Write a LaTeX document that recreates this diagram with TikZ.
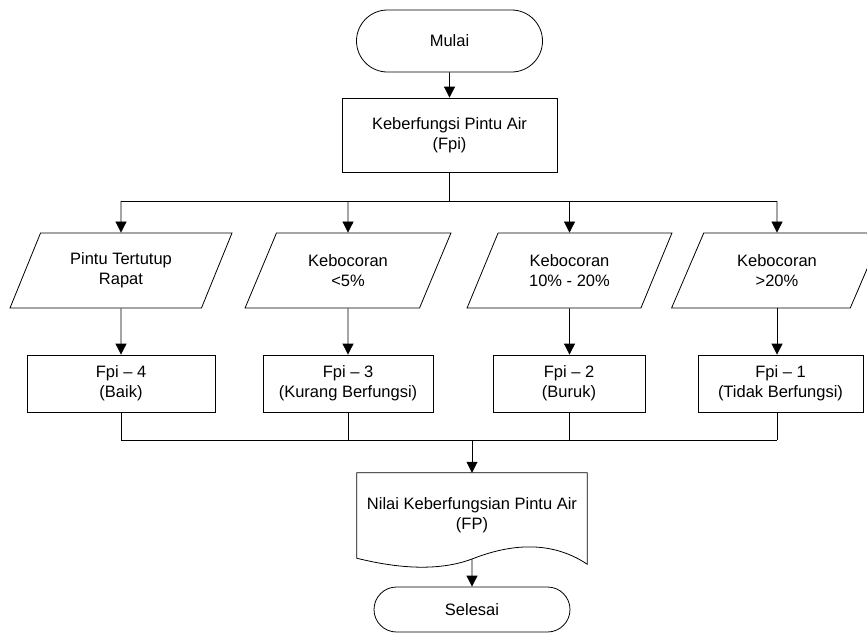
\documentclass[tikz,border=0pt]{standalone}
\usepackage{fontspec}
\setmainfont{Liberation Sans}
\usetikzlibrary{shapes.geometric,shapes.misc,arrows.meta}

\tikzset{
  base/.style={draw=black, line width=0.8pt, align=center, inner sep=2pt,
    font=\fontsize{16.5}{20}\selectfont},
  terminal/.style={base, rounded rectangle, minimum width=190pt, minimum height=62pt},
  process/.style={base, rectangle, minimum height=57pt},
  io/.style={base, trapezium, trapezium left angle=63, trapezium right angle=117,
    trapezium stretches=true, minimum height=75pt},
  docbody/.style={align=center, inner sep=0pt, minimum width=230pt, minimum height=85pt,
    font=\fontsize{16.5}{20}\selectfont},
  link/.style={line width=0.8pt},
  flow/.style={link, -{Triangle[length=11pt,width=11pt]}}
}

\begin{document}
\begin{tikzpicture}[x=1pt, y=-1pt]
  \useasboundingbox (0,0) rectangle (867,643);

  % start and main assessment
  \node[terminal] (start) at (449.5,41) {Mulai};
  \node[process, minimum width=215pt, minimum height=74pt] (fpi) at (449.5,135)
    {Keberfungsi Pintu Air\\(Fpi)};

  % leakage conditions
  \node[io, minimum width=222pt] (c1) at (121,270.5) {Pintu Tertutup\\Rapat};
  \node[io, minimum width=206pt] (c2) at (348,270.5) {Kebocoran\\<5\%};
  \node[io, minimum width=205pt] (c3) at (569.5,270.5) {Kebocoran\\10\% - 20\%};
  \node[io, minimum width=211pt] (c4) at (777,270.5) {Kebocoran\\>20\%};

  % scores
  \node[process, minimum width=188pt] (s1) at (121,383.5) {Fpi – 4\\(Baik)};
  \node[process, minimum width=170pt] (s2) at (348,383.5) {Fpi – 3\\(Kurang Berfungsi)};
  \node[process, minimum width=152pt] (s3) at (569,383.5) {Fpi – 2\\(Buruk)};
  \node[process, minimum width=165pt] (s4) at (780.5,383.5) {Fpi – 1\\(Tidak Berfungsi)};

  % result document
  \node[docbody] (doc) at (472,515.5) {Nilai Keberfungsian Pintu Air\\(FP)};
  \draw[link] (doc.north west) -- (doc.north east) -- ([yshift=-6pt]doc.south east)
    .. controls (548,538) and (505,546) .. (472,559)
    .. controls (440,571) and (400,569) .. (doc.south west) -- cycle;
  \coordinate (docout) at (472,559);

  \node[terminal, minimum width=200pt, minimum height=45pt] (end) at (472,609.5) {Selesai};

  % bus coordinates
  \coordinate (split) at (449.5,201);
  \coordinate (join) at (472,440);

  % connectors
  \draw[flow] (start) -- (fpi);
  \draw[link] (fpi.south) -- (split);
  \draw[link] (split -| c1) -- (split -| c4);
  \foreach \c in {c1,c2,c3,c4} \draw[flow] (split -| \c) -- (\c);
  \foreach \c/\s in {c1/s1,c2/s2,c3/s3} \draw[flow] (\c) -- (\c |- \s.north);
  \draw[flow] (c4.south) -- (c4.south |- s4.north);
  \foreach \s in {s1,s2,s3} \draw[link] (\s.south) -- (\s.south |- join);
  \draw[link] (c4.south |- s4.south) -- (c4.south |- join);
  \draw[link] (join -| s1) -- (join -| c4.south);
  \draw[flow] (join) -- (doc.north);
  \draw[flow] (docout) -- (end);
\end{tikzpicture}
\end{document}
